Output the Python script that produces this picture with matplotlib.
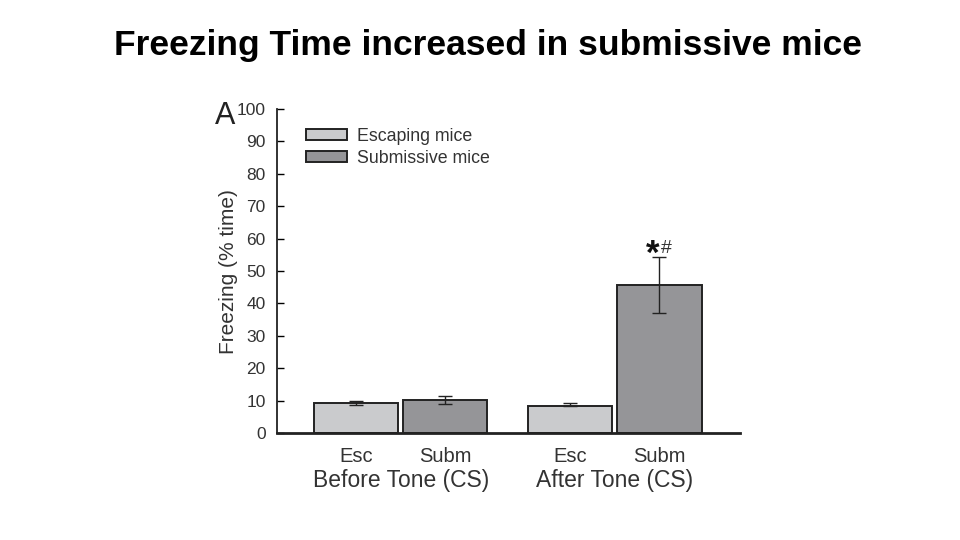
import matplotlib.pyplot as plt
import numpy as np

plt.rcParams['font.family'] = ['Liberation Sans', 'DejaVu Sans']

# Freezing (% time), mean and SEM
conditions = ['Before Tone (CS)', 'After Tone (CS)']
groups = ['Esc', 'Subm']
escaping = [9.3, 8.3]
escaping_err_lo = [0.5, 0.0]
escaping_err_hi = [0.5, 0.9]
submissive = [10.2, 45.7]
submissive_err = [1.2, 8.5]
yticks = [0, 10, 20, 30, 40, 50, 60, 70, 80, 90, 100]

fig = plt.figure(figsize=(9.6, 5.4), dpi=100)
ax = fig.add_axes([0.2885, 0.198, 0.482, 0.600])

x_esc = np.array([0.0, 2.4])
x_sub = x_esc + 1.0
w = 0.945
ec = '#222222'

ax.bar(x_esc, escaping, w, color='#cacbcd', edgecolor=ec, linewidth=1.4,
       label='Escaping mice', zorder=2)
ax.bar(x_sub, submissive, w, color='#959598', edgecolor=ec, linewidth=1.4,
       label='Submissive mice', zorder=2)
ax.errorbar(x_esc, escaping, yerr=[escaping_err_lo, escaping_err_hi], fmt='none',
            ecolor=ec, elinewidth=1, capsize=5, capthick=1, zorder=3)
ax.errorbar(x_sub, submissive, yerr=submissive_err, fmt='none', ecolor=ec,
            elinewidth=1, capsize=5, capthick=1, zorder=3)

ax.text(x_sub[1] + 0.0, 55.3, '*', fontsize=25, fontweight='bold',
        ha='right', va='center', color='#111111')
ax.text(x_sub[1] + 0.02, 56.9, '#', fontsize=14, ha='left', va='center',
        color='#333333')

ax.set_xlim(-0.888, 4.30)
ax.set_ylim(0, 100)
ax.set_yticks(yticks)
ax.tick_params(axis='y', direction='in', length=5, width=1, labelsize=12.5,
               labelcolor='#333333', pad=8)
ax.set_xticks(np.concatenate([x_esc, x_sub]))
ax.set_xticklabels(['Esc', 'Esc', 'Subm', 'Subm'])
ax.tick_params(axis='x', length=0, labelsize=14.5, labelcolor='#333333', pad=10)
for s in ['top', 'right']:
    ax.spines[s].set_visible(False)
ax.spines['left'].set_linewidth(1.3)
ax.spines['bottom'].set_linewidth(2)
ax.spines['left'].set_color('#222222')
ax.spines['bottom'].set_color('#222222')

for xc, cond in zip((x_esc + x_sub) / 2, conditions):
    ax.text(xc, -14.6, cond, ha='center', va='center', fontsize=16.5,
            color='#333333', transform=ax.transData, clip_on=False)

ax.set_ylabel('Freezing (% time)', fontsize=15, color='#333333', labelpad=-1)

leg = ax.legend(loc='upper left', bbox_to_anchor=(0.028, 0.992), frameon=False,
                fontsize=12.8, handlelength=2.3, handleheight=0.6,
                handletextpad=0.6, labelspacing=0.3, labelcolor='#333333')

fig.text(0.235, 0.785, 'A', fontsize=22, color='#222222', ha='center', va='center')
fig.text(0.508, 0.915, 'Freezing Time increased in submissive mice',
         fontsize=25.5, fontweight='bold', ha='center', va='center')

fig.savefig('out.png', dpi=100)
